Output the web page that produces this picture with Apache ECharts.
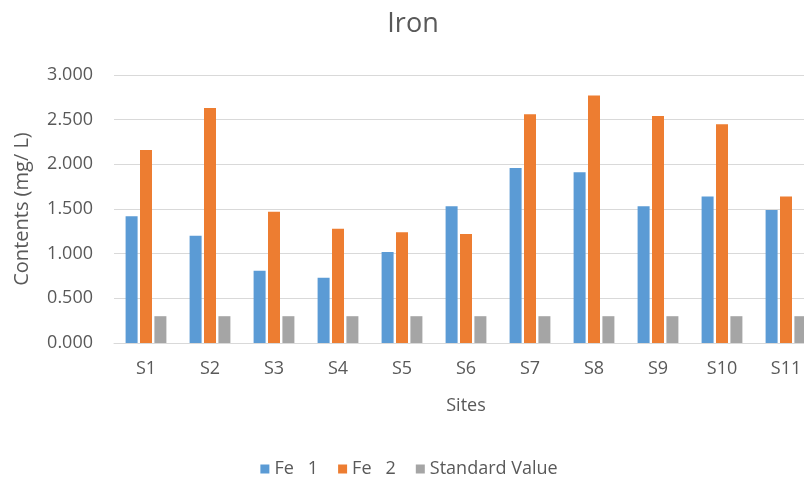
<!DOCTYPE html>
<html>
<head>
<meta charset="utf-8">
<script src="https://cdn.jsdelivr.net/npm/echarts@6/dist/echarts.min.js"></script>
<style>
  html, body { margin: 0; padding: 0; background: #fff; overflow: hidden; }
  /* drawing surface is a little wider than the window; the plot runs off the right edge */
  #chart { width: 818px; height: 478px; }
</style>
</head>
<body>
<div id="chart"></div>
<script>
// Iron content at each sampling site (mg/L)
const sites = ['S1', 'S2', 'S3', 'S4', 'S5', 'S6', 'S7', 'S8', 'S9', 'S10', 'S11'];
const fe1 = [1.42, 1.20, 0.81, 0.73, 1.02, 1.53, 1.96, 1.91, 1.53, 1.64, 1.49];
const fe2 = [2.16, 2.63, 1.47, 1.28, 1.24, 1.22, 2.56, 2.77, 2.54, 2.45, 1.64];
const standardValue = [0.3, 0.3, 0.3, 0.3, 0.3, 0.3, 0.3, 0.3, 0.3, 0.3, 0.3];
const yTicks = { min: 0, max: 3, step: 0.5 };

const FONT = '"Open Sans", Lato, sans-serif';
const TEXT = '#595959';

const chart = echarts.init(document.getElementById('chart'), null, { renderer: 'canvas' });

function barSeries(name, data, color) {
  return {
    name: name,
    type: 'bar',
    data: data,
    barWidth: 12,
    barGap: '20%',
    itemStyle: { color: color },
    emphasis: { disabled: true }
  };
}

chart.setOption({
  animation: false,
  textStyle: { fontFamily: FONT },
  title: {
    text: 'Iron',
    left: 408,
    top: 6,
    textAlign: 'center',
    textStyle: { fontFamily: FONT, fontSize: 27, fontWeight: 'normal', color: TEXT }
  },
  legend: {
    top: 455,
    left: 'center',
    itemWidth: 9,
    itemHeight: 9,
    itemGap: 20,
    icon: 'rect',
    textStyle: { fontFamily: FONT, fontSize: 18, color: TEXT },
    data: ['Fe   1', 'Fe   2', 'Standard Value']
  },
  grid: { left: 114, top: 75, right: 0, height: 268, containLabel: false },
  xAxis: {
    type: 'category',
    data: sites,
    name: 'Sites',
    nameLocation: 'middle',
    nameGap: 54,
    nameTextStyle: { fontFamily: FONT, fontSize: 18, color: TEXT },
    axisLine: { lineStyle: { color: '#d9d9d9', width: 1 } },
    axisTick: { show: false },
    axisLabel: { margin: 17, fontFamily: FONT, fontSize: 18, color: TEXT }
  },
  yAxis: {
    type: 'value',
    min: yTicks.min,
    max: yTicks.max,
    interval: yTicks.step,
    name: 'Contents (mg/ L)',
    nameLocation: 'middle',
    nameGap: 82,
    nameTextStyle: { fontFamily: FONT, fontSize: 20, color: TEXT },
    axisLine: { show: false },
    axisTick: { show: false },
    splitLine: { lineStyle: { color: '#d9d9d9', width: 1 } },
    axisLabel: {
      margin: 21,
      fontFamily: FONT,
      fontSize: 18,
      color: TEXT,
      formatter: v => v.toFixed(3)
    }
  },
  series: [
    barSeries('Fe   1', fe1, '#5B9BD5'),
    barSeries('Fe   2', fe2, '#ED7D31'),
    barSeries('Standard Value', standardValue, '#A5A5A5')
  ]
});
</script>
</body>
</html>
